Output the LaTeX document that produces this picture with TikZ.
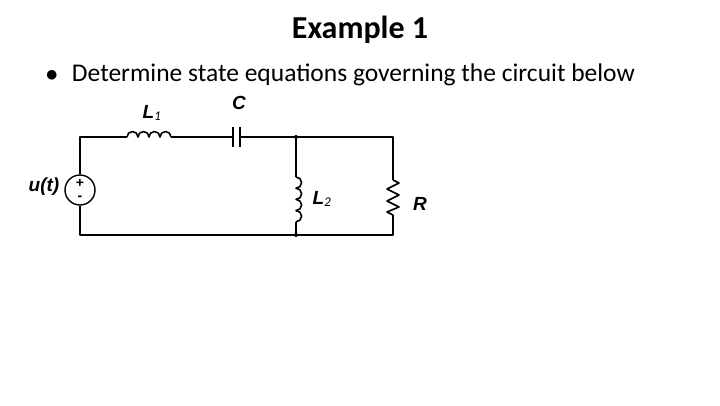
\documentclass[tikz,border=0pt]{standalone}
\usepackage{fontspec}
\setmainfont{Carlito}
\newfontfamily\arialf{Liberation Sans}
\begin{document}
\begin{tikzpicture}[x=1pt,y=-1pt,
  wire/.style={line width=1.6pt,line join=round},
  lab/.style={font=\arialf\bfseries\itshape\fontsize{19}{19}\selectfont},
  pm/.style={font=\arialf\bfseries\fontsize{14}{14}\selectfont,inner sep=0pt},
  dot/.style={circle,fill,inner sep=0pt,minimum size=4pt}]
\useasboundingbox (0,0) rectangle (720,405);
\node (title) at (360,30) {\fontsize{32}{36}\selectfont\bfseries Example 1};
\node[anchor=west] (bul) at (42,75) {\fontsize{25.5}{30}\selectfont $\bullet$\hspace{0.55em}Determine state equations governing the circuit below};
\coordinate (tl) at (80,137); \coordinate (bl) at (80,235);
\coordinate (tm) at (296,137); \coordinate (bm) at (296,235);
\coordinate (tr) at (393,137); \coordinate (br) at (393,235);
\coordinate (l1a) at (127,137); \coordinate (l1b) at (171,137);
\coordinate (ca) at (233,137); \coordinate (cb) at (240,137);
\coordinate (l2a) at (296,177); \coordinate (l2b) at (296,222);
\coordinate (ra) at (393,180); \coordinate (rb) at (393,215);
\node[draw,circle,line width=1.4pt,minimum size=30pt,inner sep=0pt] (src) at (80,190) {};
\node[pm] (plus) at (80,183) {+};
\node[pm] (minus) at (80,198.5) {-};
\draw[wire] (src.north) -- (tl) -- (l1a);
\draw[wire] (l1b) -- (ca);
\draw[wire] (cb) -- (tm) -- (tr) -- (ra);
\draw[wire] (rb) -- (br) -- (bm) -- (bl) -- (src.south);
\draw[wire] (tm) -- (l2a); \draw[wire] (l2b) -- (bm);
\draw[wire] (l1a) arc(-180:0:5.5) arc(-180:0:5.5) arc(-180:0:5.5) arc(-180:0:5.5);
\draw[wire] (233,127) -- (233,147); \draw[wire] (240,127) -- (240,147);
\draw[wire] (l2a) arc(-90:90:5.6) arc(-90:90:5.6) arc(-90:90:5.6) arc(-90:90:5.6);
\draw[wire] (ra) -- (399,183) -- (387,189) -- (399,195) -- (387,201) -- (399,207) -- (387,212) -- (rb);
\node[dot] at (tm) {}; \node[dot] at (bm) {};
\node[lab] at (152,113) {L$_{\mathit 1}$};
\node[lab] at (239,103) {C};
\node[lab] at (322,199) {L$_{\mathit 2}$};
\node[lab] at (420,204) {R};
\node[lab] at (44,187) {u(t)};
\end{tikzpicture}
\end{document}
